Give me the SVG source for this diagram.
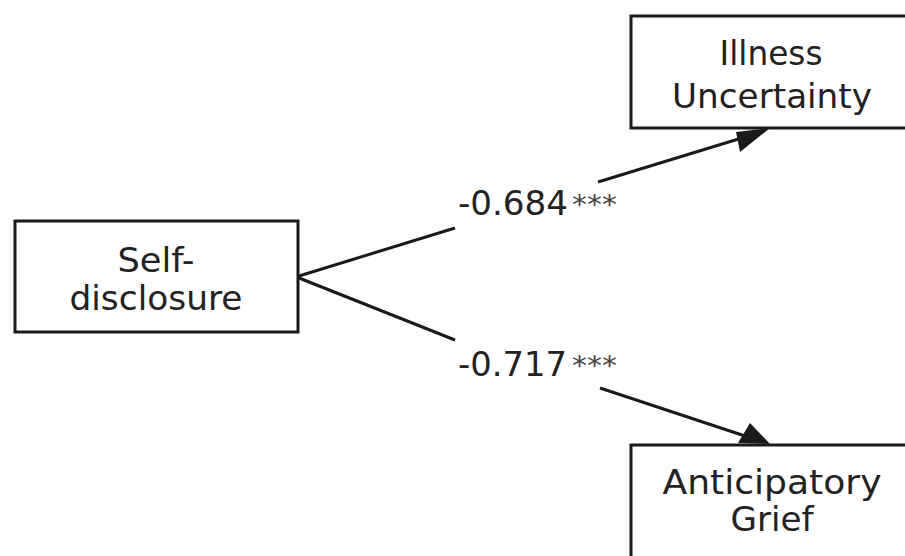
<svg xmlns="http://www.w3.org/2000/svg" width="905" height="556" viewBox="0 0 905 556">
<style>
.box{fill:#fff;stroke:#1a1a1a;stroke-width:3}
.t{font-family:"DejaVu Sans",sans-serif;font-size:33px;fill:#222;text-anchor:middle}
.l{font-family:"DejaVu Sans",sans-serif;font-size:33px;fill:#222}
.s{font-family:"DejaVu Sans",sans-serif;font-size:26px;fill:#444}
.c{stroke:#1a1a1a;stroke-width:3;fill:none}
.a{fill:#1a1a1a}
</style>
<rect width="905" height="556" fill="#fff"/>
<g id="self-disclosure">
<rect class="box" x="15" y="221" width="283" height="111"/>
<text class="t" x="156" y="272" textLength="77" lengthAdjust="spacingAndGlyphs">Self-</text>
<text class="t" x="156" y="310" textLength="173" lengthAdjust="spacingAndGlyphs">disclosure</text>
</g>
<g id="illness-uncertainty">
<rect class="box" x="631" y="16" width="290" height="112"/>
<text class="t" x="771" y="65" textLength="103" lengthAdjust="spacingAndGlyphs">Illness</text>
<text class="t" x="772" y="108" textLength="200" lengthAdjust="spacingAndGlyphs">Uncertainty</text>
</g>
<g id="anticipatory-grief">
<rect class="box" x="631" y="445" width="290" height="130"/>
<text class="t" x="772" y="494" textLength="219" lengthAdjust="spacingAndGlyphs">Anticipatory</text>
<text class="t" x="772" y="531" textLength="83" lengthAdjust="spacingAndGlyphs">Grief</text>
</g>
<g id="connectors">
<path class="c" d="M299,276 L455,228"/>
<path class="c" d="M598,182 L745,137"/>
<path class="a" d="M770,128 L740,152 L736,132 z"/>
<path class="c" d="M299,278 L455,340"/>
<path class="c" d="M600,388 L745,436"/>
<path class="a" d="M770,444 L750,423 L738,443 z"/>
<text class="l" x="458" y="215" textLength="110" lengthAdjust="spacingAndGlyphs">-0.684</text>
<text class="s" x="572" y="214" textLength="45" lengthAdjust="spacingAndGlyphs">***</text>
<text class="l" x="458" y="376" textLength="109" lengthAdjust="spacingAndGlyphs">-0.717</text>
<text class="s" x="572" y="375" textLength="45" lengthAdjust="spacingAndGlyphs">***</text>
</g>
</svg>
